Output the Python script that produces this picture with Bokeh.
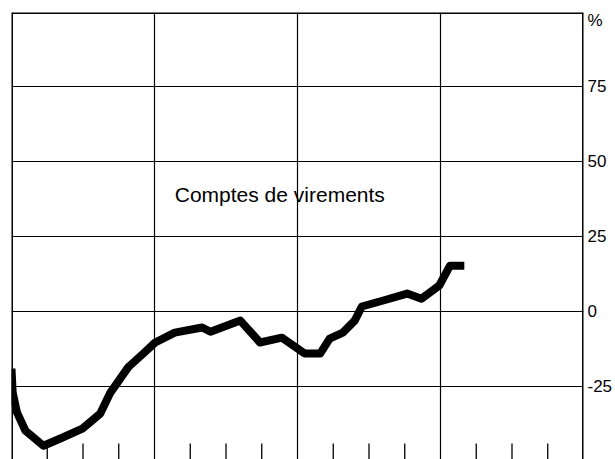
from bokeh.plotting import figure
from bokeh.models import FixedTicker, Span, Label, LinearAxis
from bokeh.embed import file_html
from bokeh.resources import INLINE

# Data (x in months from start, y in %)
months = [0.0, 0.1, 0.45, 1.17, 2.68, 4.1, 5.95, 7.45, 8.3, 9.8, 11.05, 12.06, 13.7,
          16.0, 16.7, 19.2, 20.85, 22.7, 24.0, 24.6, 25.9, 26.7, 27.8, 28.8, 29.4,
          31.2, 33.2, 34.4, 35.9, 36.8, 38.0]
values = [-19.0, -27.0, -33.5, -39.7, -44.7, -42.3, -39.0, -34.0, -27.0, -18.5, -14.0, -10.3, -7.0,
          -5.3, -6.7, -3.0, -10.3, -8.7, -12.3, -14.0, -14.0, -9.0, -7.0, -3.0, 1.7,
          3.7, 6.0, 4.3, 8.7, 15.3, 15.3]

year_lines = [12, 24, 36]
quarter_ticks = [3, 6, 9, 15, 18, 21, 27, 30, 33, 39, 42, 45]
y_ticks = [-25, 0, 25, 50, 75]
y_tick_labels = ["-25", "0", "25", "50", "75"]
unit_label = "%"
unit_pos = 97.0
series_label = "Comptes de virements"

YMIN, YMAX = -49.3, 99.7
XMIN, XMAX = 0, 48

p = figure(width=615, height=459, x_range=(XMIN, XMAX), y_range=(YMIN, YMAX),
           output_backend="svg", toolbar_location=None,
           min_border_left=11, min_border_right=31, min_border_top=12, min_border_bottom=0)
p.xaxis.visible = False
p.yaxis.visible = False
p.outline_line_color = None
p.background_fill_color = "white"
p.border_fill_color = "white"

p.xgrid.ticker = FixedTicker(ticks=year_lines)
p.ygrid.ticker = FixedTicker(ticks=y_ticks)
for g in (p.xgrid, p.ygrid):
    g.grid_line_color = "black"
    g.grid_line_width = 1.2
    g.grid_line_alpha = 1.0

# right-hand value labels
ax = LinearAxis(ticker=FixedTicker(ticks=y_ticks + [unit_pos]))
ax.major_label_overrides = {**{v: t for v, t in zip(y_ticks, y_tick_labels)}, unit_pos: unit_label}
ax.axis_line_color = None
ax.major_tick_line_color = None
ax.minor_tick_line_color = None
ax.major_tick_in = 0
ax.major_tick_out = 0
ax.major_label_standoff = 4
ax.major_label_text_font = "Liberation Sans"
ax.major_label_text_font_size = "17px"
ax.major_label_text_color = "black"
p.add_layout(ax, "right")

# frame borders (left, right, top)
for loc, dim in ((XMIN, "height"), (XMAX, "height"), (YMAX, "width")):
    p.add_layout(Span(location=loc, dimension=dim, line_color="black", line_width=3))

# quarter ticks at bottom
p.segment(x0=quarter_ticks, x1=quarter_ticks,
          y0=[YMIN] * len(quarter_ticks), y1=[-44.0] * len(quarter_ticks),
          line_color="black", line_width=1.3)

# series line
p.line(months, values, line_color="black", line_width=8, line_join="round", line_cap="butt")

p.add_layout(Label(x=13.7, y=39, text=series_label, text_font="Liberation Sans",
                   text_font_size="21px", text_color="black", text_baseline="alphabetic",
                   text_align="left"))

open("out.html", "w").write(file_html(p, INLINE))
